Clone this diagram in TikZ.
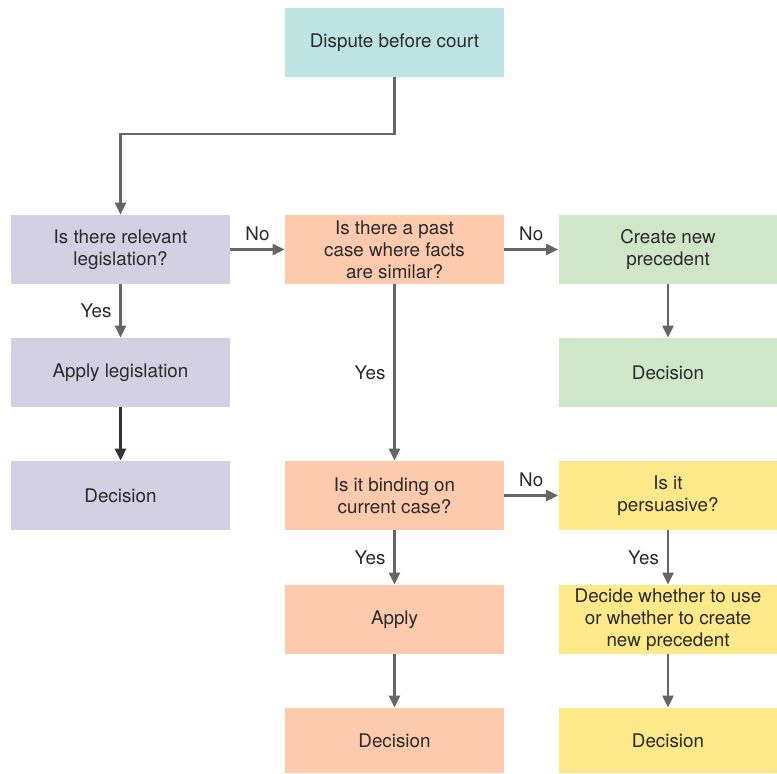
\documentclass[tikz,border=0pt]{standalone}
\usepackage{fontspec}
\setmainfont{TeX Gyre Heros}
\usetikzlibrary{arrows.meta}
\definecolor{cteal}{HTML}{BDE3E3}
\definecolor{clav}{HTML}{D4D0E4}
\definecolor{cpeach}{HTML}{FDCAAE}
\definecolor{cgreen}{HTML}{CFE6C8}
\definecolor{cyellow}{HTML}{FDE98A}
\definecolor{cline}{HTML}{666666}
\definecolor{ctext}{HTML}{2A2A2A}
\begin{document}
\begin{tikzpicture}[x=0.5pt,y=-0.5pt,
  box/.style={minimum width=109.5pt,minimum height=34.5pt,inner sep=0pt,align=center,
    text=ctext,font=\fontsize{9.4}{10.9}\selectfont},
  lowbox/.style={box,minimum height=32.5pt},
  conn/.style={draw=cline,line width=1.1pt,-{Triangle[length=6pt,width=5.5pt]}},
  darkconn/.style={draw=black!80,line width=1.1pt,-{Triangle[length=6pt,width=5.5pt]}},
  lbl/.style={text=ctext,font=\fontsize{9.4}{10.9}\selectfont,inner sep=0pt}]
\useasboundingbox (0,0) rectangle (777,773);
\fill[white] (0,0) rectangle (777,773);
% nodes
\node[box,fill=cteal] (dispute) at (394.5,42.5) {Dispute before court};
\node[box,fill=clav] (legis) at (120.5,249.5) {Is there relevant\\legislation?};
\node[box,fill=cpeach] (past) at (394.5,249.5) {Is there a past\\case where facts\\are similar?};
\node[box,fill=cgreen] (create) at (668,249.5) {Create new\\precedent};
\node[box,fill=clav] (applyleg) at (120.5,372.5) {Apply legislation};
\node[box,fill=cgreen] (decG) at (668,372.5) {Decision};
\node[box,fill=clav] (decL) at (120.5,495.5) {Decision};
\node[box,fill=cpeach] (binding) at (394.5,495.5) {Is it binding on\\current case?};
\node[box,fill=cyellow] (persu) at (668,495.5) {Is it\\persuasive?};
\node[box,fill=cpeach] (apply) at (394.5,619.5) {Apply};
\node[box,fill=cyellow] (decide) at (668,619.5) {Decide whether to use\\or whether to create\\new precedent};
\node[lowbox,fill=cpeach] (decP) at (394.5,740.5) {Decision};
\node[lowbox,fill=cyellow] (decY) at (668,740.5) {Decision};
% connectors
\coordinate (c1) at (394.5,134);
\coordinate (c2) at (120.5,134);
\draw[conn] (dispute.south) -- (c1) -- (c2) -- (legis.north);
\draw[conn] (legis.east) -- node[lbl,above=4pt] {No} (past.west);
\draw[conn] (past.east) -- node[lbl,above=4pt] {No} (create.west);
\draw[conn] (legis.south) -- node[lbl,left=4pt] {Yes} (applyleg.north);
\draw[darkconn] (applyleg.south) -- (decL.north);
\draw[conn] (create.south) -- (decG.north);
\draw[conn] (past.south) -- node[lbl,left=4pt] {Yes} (binding.north);
\draw[conn] (binding.east) -- node[lbl,above=4pt] {No} (persu.west);
\draw[conn] (binding.south) -- node[lbl,left=4pt] {Yes} (apply.north);
\draw[conn] (persu.south) -- node[lbl,left=4pt] {Yes} (decide.north);
\draw[conn] (apply.south) -- (decP.north);
\draw[conn] (decide.south) -- (decY.north);
\end{tikzpicture}
\end{document}
